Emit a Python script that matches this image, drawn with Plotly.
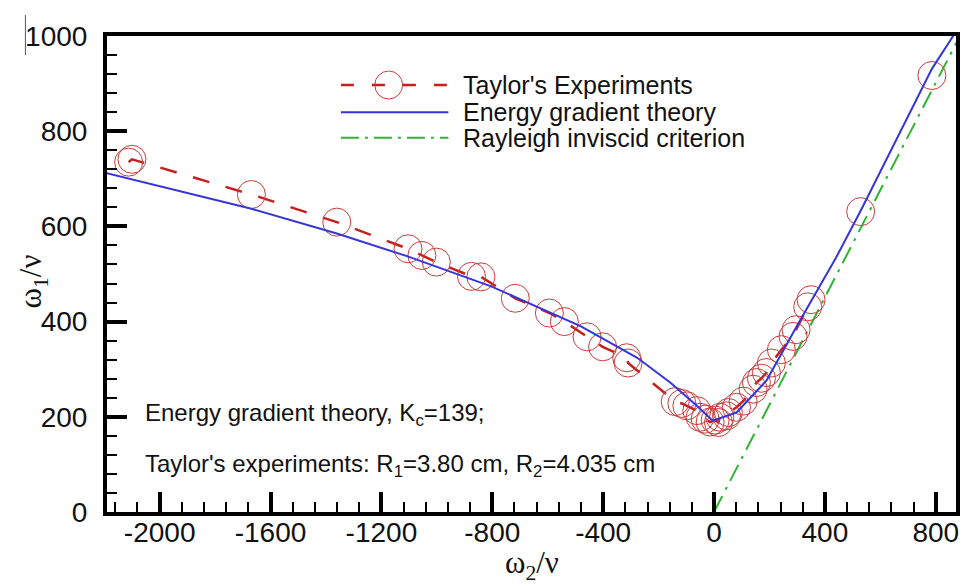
import plotly.graph_objects as go

# Taylor's experimental stability boundary (omega2/nu, omega1/nu)
taylor_x = [-2112, -2100, -1669, -1361, -1104, -1054, -1002, -875, -841, -717,
            -594, -540, -458, -402, -315, -310, -140, -116, -98, -62, -50, -32,
            -14, 4, 16, 21, 45, 52, 81, 105, 141, 153, 171, 189, 207, 243, 285,
            296, 338, 350, 529, 786]
taylor_y = [735, 741, 667, 609, 553, 539, 525, 495, 494, 449,
            418, 400, 368, 347, 324, 313, 232, 228, 223, 213, 199, 195,
            189, 193, 188, 199, 202, 209, 220, 233, 258, 272, 281, 293, 313, 341, 369,
            383, 431, 446, 631, 917]
# the dashed connecting line runs through the densely measured part only
n_connected = 40

# Energy gradient theory prediction, Kc = 139
energy_x = [-2200, -1669, -1361, -1105, -804, -480, -277, -158, -62, -5,
            81, 189, 300, 440, 531, 786, 866]
energy_y = [713, 637, 585, 537, 474, 390, 324, 272, 223, 192,
            209, 276, 392, 534, 635, 931, 1003]

# Rayleigh inviscid criterion: omega1 R1^2 = omega2 R2^2
rayleigh_x = [0, 887]
rayleigh_y = [0, 1000]

x_ticks = [-2000, -1600, -1200, -800, -400, 0, 400, 800]
y_ticks = [0, 200, 400, 600, 800, 1000]

RED = "#c81e1e"
RED_MARK = "#cc3a3a"
BLUE = "#3535d8"
GREEN = "#2fb52f"
SANS = "Liberation Sans, Arial, sans-serif"
SERIF = "Liberation Serif, Times New Roman, serif"

fig = go.Figure()

fig.add_trace(go.Scatter(
    x=rayleigh_x, y=rayleigh_y, mode="lines",
    line=dict(color=GREEN, width=2, dash="18px,7px,3px,7px"),
    showlegend=False))

fig.add_trace(go.Scatter(
    x=taylor_x[:n_connected], y=taylor_y[:n_connected], mode="lines",
    line=dict(color=RED, width=2.5, dash="17px,17px"),
    showlegend=False))

fig.add_trace(go.Scatter(
    x=taylor_x, y=taylor_y, mode="markers",
    marker=dict(symbol="circle-open", size=28, color=RED_MARK,
                line=dict(color=RED_MARK, width=1)),
    showlegend=False))

fig.add_trace(go.Scatter(
    x=energy_x, y=energy_y, mode="lines",
    line=dict(color=BLUE, width=2),
    showlegend=False))

# Hand-built legend in the upper part of the frame
leg_x0, leg_x1, leg_txt = 0.2755, 0.4021, 0.4173
rows = [0.897, 0.840, 0.786]
shapes = [
    dict(type="line", xref="paper", yref="paper", x0=leg_x0, x1=leg_x1,
         y0=rows[0], y1=rows[0], line=dict(color=RED, width=2.5, dash="13px,18px")),
    dict(type="circle", xref="paper", yref="paper",
         x0=0.3318 - 0.0164, x1=0.3318 + 0.0164,
         y0=rows[0] - 0.0294, y1=rows[0] + 0.0294,
         line=dict(color=RED_MARK, width=1)),
    dict(type="line", xref="paper", yref="paper", x0=leg_x0, x1=leg_x1,
         y0=rows[1], y1=rows[1], line=dict(color=BLUE, width=2)),
    dict(type="line", xref="paper", yref="paper", x0=leg_x0, x1=leg_x1,
         y0=rows[2], y1=rows[2], line=dict(color=GREEN, width=2, dash="18px,6px,3px,6px")),
    # small vertical stroke left of the top tick label
    dict(type="line", xref="paper", yref="paper", x0=-0.0961, x1=-0.0961,
         y0=0.960, y1=1.044, line=dict(color="#555555", width=1)),
]

legend_labels = ["Taylor's Experiments", "Energy gradient theory",
                 "Rayleigh inviscid criterion"]
annotations = [
    dict(text=t, xref="paper", yref="paper", x=leg_txt, y=yy,
         xanchor="left", yanchor="middle", showarrow=False,
         font=dict(family=SANS, size=25, color="#111111"))
    for t, yy in zip(legend_labels, rows)
]
annotations += [
    dict(text="Energy gradient theory, K<sub>c</sub>=139;", xref="paper", yref="paper",
         x=0.0422, y=0.2038, xanchor="left", yanchor="middle", showarrow=False,
         font=dict(family=SANS, size=24, color="#111111")),
    dict(text="Taylor's experiments: R<sub>1</sub>=3.80 cm, R<sub>2</sub>=4.035 cm",
         xref="paper", yref="paper", x=0.0422, y=0.0987, xanchor="left",
         yanchor="middle", showarrow=False,
         font=dict(family=SANS, size=24, color="#111111")),
    dict(text="ω<sub>2</sub>/ν", xref="paper", yref="paper", x=0.5, y=-0.112,
         xanchor="center", yanchor="middle", showarrow=False,
         font=dict(family=SERIF, size=31, color="#111111")),
    dict(text="ω<sub>1</sub>/ν", xref="paper", yref="paper", x=-0.0868, y=0.485,
         xanchor="center", yanchor="middle", showarrow=False, textangle=-90,
         font=dict(family=SERIF, size=31, color="#111111")),
]

fig.update_layout(
    width=968, height=586,
    margin=dict(l=107, r=8, t=36, b=74),
    paper_bgcolor="white", plot_bgcolor="white",
    shapes=shapes, annotations=annotations,
    showlegend=False,
)

fig.update_xaxes(
    range=[-2190, 873], tickvals=x_ticks, ticktext=[str(v) for v in x_ticks],
    showgrid=False, zeroline=False,
    showline=True, linecolor="black", linewidth=4, mirror=True,
    ticks="inside", ticklen=20, tickwidth=4, tickcolor="black",
    minor=dict(ticks="inside", ticklen=10, tickwidth=1.5, tickcolor="black",
               dtick=80, tick0=0, showgrid=False),
    tickfont=dict(family=SANS, size=28, color="#111111"),
    ticklabelstandoff=-8,
)
fig.update_yaxes(
    range=[0, 1000], tickvals=y_ticks, ticktext=[str(v) for v in y_ticks],
    showgrid=False, zeroline=False,
    showline=True, linecolor="black", linewidth=4, mirror=True,
    ticks="inside", ticklen=20, tickwidth=4, tickcolor="black",
    minor=dict(ticks="inside", ticklen=10, tickwidth=1.5, tickcolor="black",
               dtick=40, tick0=0, showgrid=False),
    tickfont=dict(family=SANS, size=28, color="#111111"),
    ticklabelstandoff=10,
)

fig.write_html("out.html")
